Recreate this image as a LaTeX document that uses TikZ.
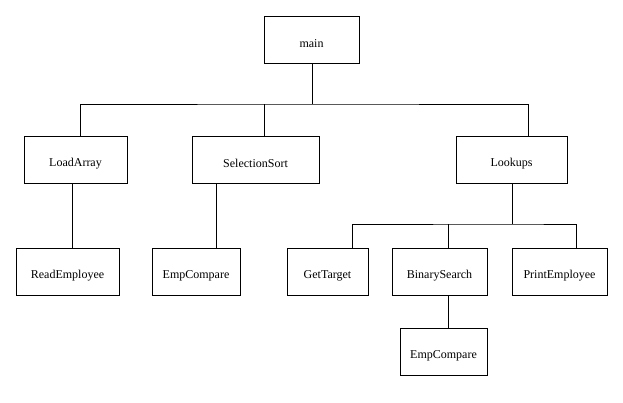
\documentclass[tikz,border=0pt]{standalone}
\usepackage{fontspec}
\setmainfont{Liberation Serif}
\newcommand{\lowtxt}[1]{\raisebox{-4pt}[\height][\depth]{#1}}
\begin{document}
\begin{tikzpicture}[x=1pt,y=-1pt,
  box/.style={draw,line width=1pt,inner sep=0pt,minimum height=47pt,font=\fontsize{12}{14}\selectfont},
  conn/.style={line width=1pt}]
\useasboundingbox (0,0) rectangle (623,402);
\node[box,minimum width=95pt]  (main) at (311.5,39.5) {\lowtxt{main}};
\node[box,minimum width=103pt] (load) at (75.5,159.5) {\lowtxt{LoadArray}};
\node[box,minimum width=127pt] (sel)  at (255.5,159.5) {\lowtxt{SelectionSort}};
\node[box,minimum width=111pt] (look) at (511.5,159.5) {\lowtxt{Lookups}};
\node[box,minimum width=103pt] (read) at (67.5,271.5) {\lowtxt{ReadEmployee}};
\node[box,minimum width=88pt]  (cmpa) at (196,271.5) {\lowtxt{EmpCompare}};
\node[box,minimum width=81pt]  (get)  at (327.5,271.5) {\lowtxt{GetTarget}};
\node[box,minimum width=95pt]  (bin)  at (439.5,271.5) {\lowtxt{BinarySearch}};
\node[box,minimum width=95pt]  (prn)  at (559.5,271.5) {\lowtxt{PrintEmployee}};
\node[box,minimum width=87pt]  (cmpb) at (443.5,351.5) {\lowtxt{EmpCompare}};
\coordinate (busa) at (312,104);
\coordinate (busb) at (512,224);
% main level
\draw[conn] ([xshift=0.5pt]main.south) -- ([xshift=0.5pt]main.south |- busa);
\draw[conn] ([xshift=4.5pt]load.north) |- (busa) -| ([xshift=16.5pt]look.north);
\draw[conn] ([xshift=8.5pt]sel.north) -- ([xshift=8.5pt]sel.north |- busa);
% left subtrees
\draw[conn] ([xshift=-3.5pt]load.south) -- ([xshift=4.5pt]read.north);
\draw[conn] ([xshift=-39.5pt]sel.south) -- ([xshift=20pt]cmpa.north);
% lookups subtree
\draw[conn] ([xshift=0.5pt]look.south) -- (busb);
\draw[conn] ([xshift=24.5pt]get.north) |- (busb) -| ([xshift=16.5pt]prn.north);
\draw[conn] ([xshift=8.5pt]bin.north) -- ([xshift=8.5pt]bin.north |- busb);
\draw[conn] ([xshift=8.5pt]bin.south) -- ([xshift=4.5pt]cmpb.north);
\end{tikzpicture}
\end{document}
